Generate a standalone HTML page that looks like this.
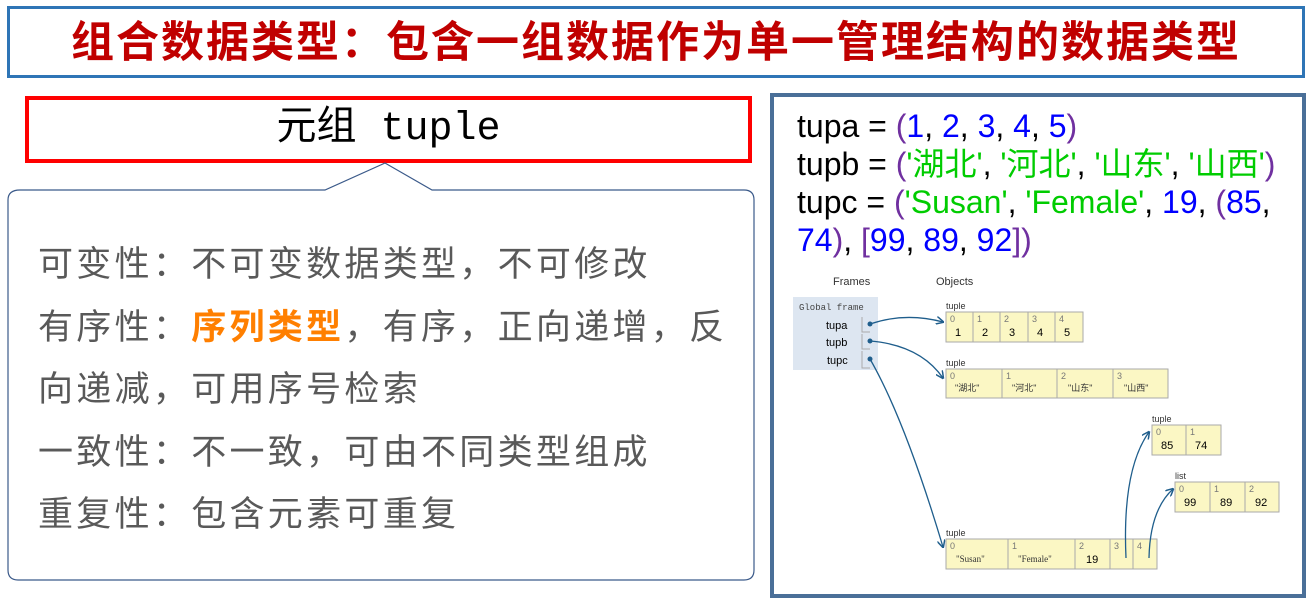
<!DOCTYPE html>
<html><head><meta charset="utf-8"><style>
body{margin:0;width:1310px;height:601px;background:#fff;position:relative;overflow:hidden;font-family:"Liberation Sans","Noto Sans CJK SC",sans-serif}
.abs{position:absolute}
</style></head><body>
<div class="abs" style="left:7px;top:6px;width:1292px;height:66px;border:3px solid #2e75b6"></div>
<div class="abs" style="left:7px;top:10px;width:1298px;text-align:center;font-size:43px;font-weight:bold;color:#c00000;line-height:66px;letter-spacing:2px">组合数据类型：包含一组数据作为单一管理结构的数据类型</div>

<div class="abs" style="left:25px;top:96px;width:719px;height:59px;border:4px solid #f00"></div>
<div class="abs" style="left:25px;top:100px;width:727px;text-align:center;font-size:40px;line-height:59px;font-family:'Liberation Mono','Noto Sans CJK SC',monospace">元组 tuple</div>

<svg class="abs" style="left:0;top:0" width="770" height="601">
<path d="M20,190 L325,190 L385,163 L432,190 L744,190 Q754,190 754,200 L754,570 Q754,580 744,580 L18,580 Q8,580 8,570 L8,200 Q8,190 20,190 Z" fill="#fff" stroke="#3b5a8a" stroke-width="1.2"/>
</svg>
<div class="abs" style="left:38px;top:234px;font-size:35px;line-height:62.5px;color:#595959;width:720px;letter-spacing:3.3px;white-space:nowrap">
<div>可变性：不可变数据类型，不可修改</div>
<div>有序性：<span style="color:#ff7f00;font-weight:bold">序列类型</span>，有序，正向递增，反</div>
<div>向递减，可用序号检索</div>
<div>一致性：不一致，可由不同类型组成</div>
<div>重复性：包含元素可重复</div>
</div>

<div class="abs" style="left:770px;top:93px;width:528px;height:497px;border:4px solid #4a6f98"></div>
<div class="abs" style="left:797px;top:107px;font-size:32px;line-height:38px;color:#000;white-space:nowrap">
<div>tupa = <span style="color:#7030a0">(</span><span style="color:#00f">1</span>, <span style="color:#00f">2</span>, <span style="color:#00f">3</span>, <span style="color:#00f">4</span>, <span style="color:#00f">5</span><span style="color:#7030a0">)</span></div>
<div>tupb = <span style="color:#7030a0">(</span><span style="color:#0c0">'湖北'</span>, <span style="color:#0c0">'河北'</span>, <span style="color:#0c0">'山东'</span>, <span style="color:#0c0">'山西'</span><span style="color:#7030a0">)</span></div>
<div>tupc = <span style="color:#7030a0">(</span><span style="color:#0c0">'Susan'</span>, <span style="color:#0c0">'Female'</span>, <span style="color:#00f">19</span>, <span style="color:#7030a0">(</span><span style="color:#00f">85</span>,</div>
<div><span style="color:#00f">74</span><span style="color:#7030a0">)</span>, <span style="color:#7030a0">[</span><span style="color:#00f">99</span>, <span style="color:#00f">89</span>, <span style="color:#00f">92</span><span style="color:#7030a0">]</span><span style="color:#7030a0">)</span></div>
</div>

<svg class="abs" style="left:0;top:0" width="1310" height="601" font-family="Liberation Sans, Noto Sans CJK SC, sans-serif">
<defs><marker id="a" markerWidth="8" markerHeight="8" refX="7" refY="4" orient="auto" markerUnits="userSpaceOnUse"><path d="M0,0 L8,4 L0,8" fill="none" stroke="#1f5e8c" stroke-width="1.5"/></marker></defs>
<g font-size="11" fill="#333"><text x="833" y="285">Frames</text><text x="936" y="285">Objects</text></g>
<rect x="793" y="297" width="85" height="73" fill="#dde6f1"/>
<text x="799" y="310" font-size="9" font-family="Liberation Mono,monospace" fill="#444">Global frame</text>
<g font-size="11" fill="#000"><text x="826" y="329">tupa</text><text x="826" y="346">tupb</text><text x="827" y="364">tupc</text></g>
<g stroke="#aaa" fill="none"><path d="M862,317 v15 h8 M862,334 v15 h8 M862,351 v17 h8"/></g>
<g fill="#1f5e8c"><circle cx="870" cy="324" r="2.5"/><circle cx="870" cy="341" r="2.5"/><circle cx="870" cy="359" r="2.5"/><circle cx="1126" cy="558" r="2.5"/><circle cx="1149" cy="558" r="2.5"/></g>
<g font-size="9" fill="#333"><text x="946" y="309">tuple</text><text x="946" y="366">tuple</text><text x="1152" y="422">tuple</text><text x="1175" y="479">list</text><text x="946" y="536">tuple</text></g>
<g fill="#fbf7c4" stroke="#aaa" stroke-width="1">
<rect x="946" y="312" width="137" height="30"/><rect x="946" y="369" width="222" height="29"/><rect x="1152" y="425" width="69" height="30"/><rect x="1175" y="482" width="104" height="30"/><rect x="946" y="539" width="211" height="30"/>
</g>
<g stroke="#aaa"><path d="M973,312v30M1000,312v30M1028,312v30M1055,312v30M1002,369v29M1057,369v29M1113,369v29M1186,425v30M1210,482v30M1245,482v30M1008,539v30M1075,539v30M1110,539v30M1133,539v30"/></g>
<g font-size="9" fill="#777"><text x="950" y="322">0</text><text x="977" y="322">1</text><text x="1004" y="322">2</text><text x="1032" y="322">3</text><text x="1059" y="322">4</text>
<text x="950" y="379">0</text><text x="1006" y="379">1</text><text x="1061" y="379">2</text><text x="1117" y="379">3</text>
<text x="1156" y="435">0</text><text x="1190" y="435">1</text><text x="1179" y="492">0</text><text x="1214" y="492">1</text><text x="1249" y="492">2</text>
<text x="950" y="549">0</text><text x="1012" y="549">1</text><text x="1079" y="549">2</text><text x="1114" y="549">3</text><text x="1137" y="549">4</text></g>
<g font-size="11" fill="#000"><text x="955" y="336">1</text><text x="982" y="336">2</text><text x="1009" y="336">3</text><text x="1037" y="336">4</text><text x="1064" y="336">5</text>
<text x="1161" y="449">85</text><text x="1195" y="449">74</text><text x="1184" y="506">99</text><text x="1220" y="506">89</text><text x="1255" y="506">92</text><text x="1086" y="563">19</text></g>
<g font-size="9" fill="#333"><text x="955" y="391">"湖北"</text><text x="1012" y="391">"河北"</text><text x="1068" y="391">"山东"</text><text x="1124" y="391">"山西"</text><text x="956" y="562" font-family="Liberation Serif,serif">"Susan"</text><text x="1018" y="562" font-family="Liberation Serif,serif">"Female"</text></g>
<g fill="none" stroke="#1f5e8c" stroke-width="1.3" marker-end="url(#a)">
<path d="M870,324 Q905,312 943,322"/>
<path d="M870,341 Q920,345 943,378"/>
<path d="M870,359 Q905,420 943,547"/>
<path d="M1126,558 Q1122,470 1149,432"/>
<path d="M1149,558 Q1150,510 1173,489"/>
</g>
</svg>
</body></html>
